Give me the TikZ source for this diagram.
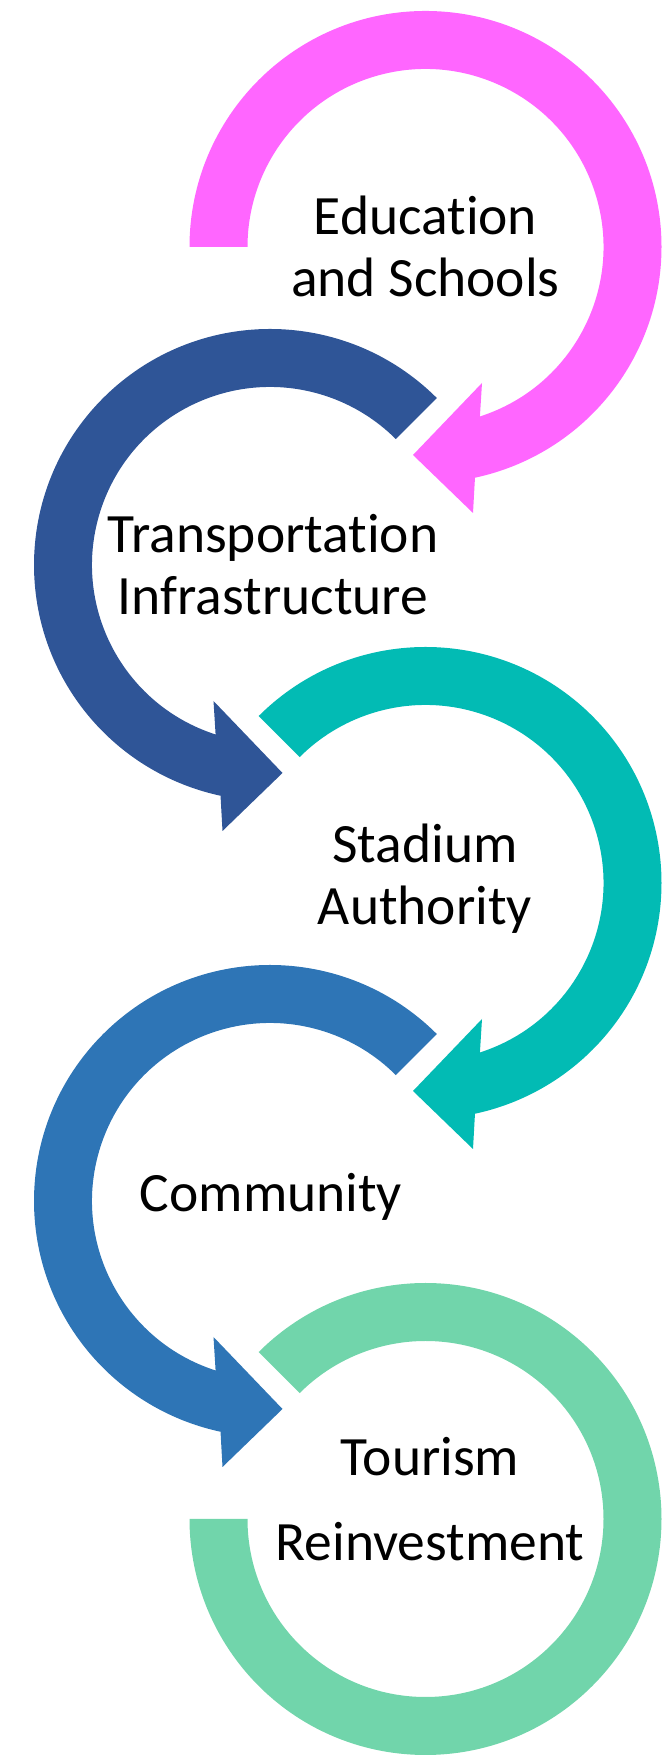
\documentclass[tikz,border=0pt]{standalone}
\usepackage{fontspec}
\setmainfont{Carlito}[Ligatures=NoCommon]
\usepackage{tikz}
\definecolor{pinkarc}{RGB}{255,102,255}
\definecolor{navyarc}{RGB}{47,85,151}
\definecolor{tealarc}{RGB}{2,187,180}
\definecolor{bluearc}{RGB}{46,117,182}
\definecolor{mintarc}{RGB}{113,213,171}

\begin{document}
\begin{tikzpicture}[
  x=1pt, y=1pt,
  lbl/.style={font=\fontsize{55.5}{62}\selectfont, align=center, inner sep=0pt}
]
\useasboundingbox (0,0) rectangle (667,1758);

% clockwise bands: outer arc, head, inner arc back
\fill[pinkarc, shift={(425.5,1511)}]
  (180:236) arc[start angle=180, end angle=-77.9, radius=236]
  -- (47.5,-266) -- (-12.5,-208) -- (56.5,-136)
  -- (-72.2:178) arc[start angle=-72.2, end angle=180, radius=178] -- cycle;
\fill[tealarc, shift={(425.5,875)}]
  (135:236) arc[start angle=135, end angle=-77.9, radius=236]
  -- (47.5,-266) -- (-12.5,-208) -- (56.5,-136)
  -- (-72.2:178) arc[start angle=-72.2, end angle=135, radius=178] -- cycle;

% counter-clockwise bands (mirrored head)
\fill[navyarc, shift={(270,1193)}]
  (45:236) arc[start angle=45, end angle=257.9, radius=236]
  -- (-47.5,-266) -- (12.5,-208) -- (-56.5,-136)
  -- (252.2:178) arc[start angle=252.2, end angle=45, radius=178] -- cycle;
\fill[bluearc, shift={(270,557)}]
  (45:236) arc[start angle=45, end angle=257.9, radius=236]
  -- (-47.5,-266) -- (12.5,-208) -- (-56.5,-136)
  -- (252.2:178) arc[start angle=252.2, end angle=45, radius=178] -- cycle;

% last ring has no head
\fill[mintarc, shift={(425.5,239)}]
  (135:236) arc[start angle=135, end angle=-180, radius=236]
  -- (-180:178) arc[start angle=-180, end angle=135, radius=178] -- cycle;

\node[lbl] (edu)  at (425.5,1512) {Education\\and Schools};
\node[lbl] (trn)  at (273,1193)   {Transportation\\Infrastructure};
\node[lbl] (std)  at (425,879)    {Stadium\\Authority};
\node[lbl] (com)  at (271,561)    {Community};
\node[lbl] (tour) at (430,259)    {Tourism\\[23pt]Reinvestment};
\end{tikzpicture}
\end{document}
